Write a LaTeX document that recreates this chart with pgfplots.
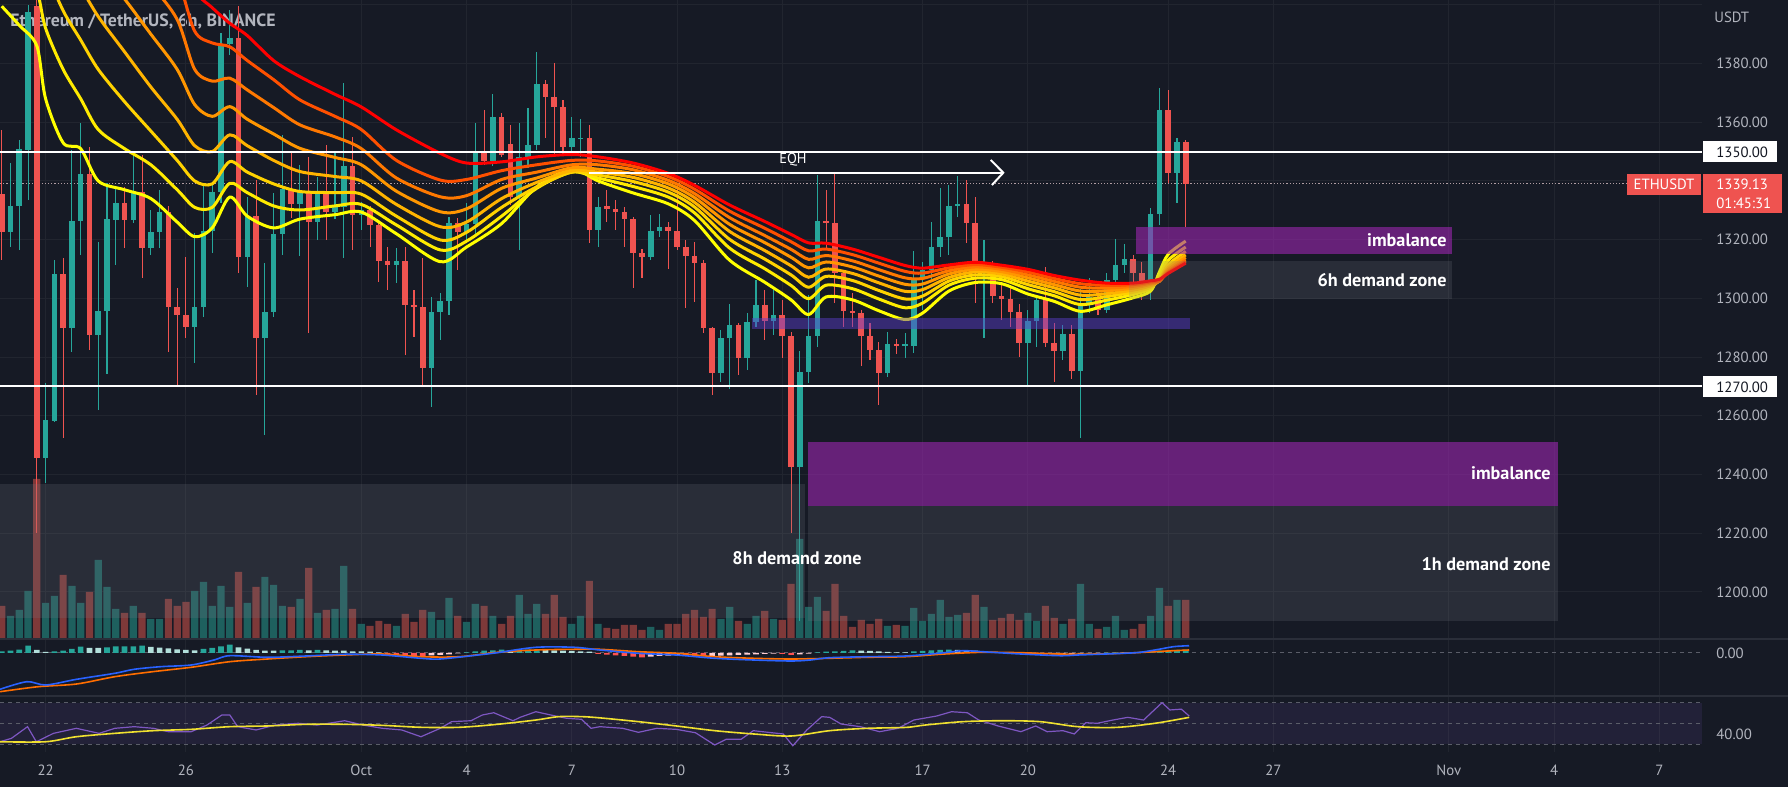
\documentclass[border=0pt]{standalone}
\usepackage{pgfplots}
\pgfplotsset{compat=1.18}
\usepackage{pgfplotstable}
\usepackage{fontspec}
\setmainfont{PT Sans}
\definecolor{bg}{HTML}{161A25}
\definecolor{gridc}{HTML}{21252F}
\definecolor{sepc}{HTML}{2A2E39}
\definecolor{lbl}{HTML}{B2B5BE}
\definecolor{up}{HTML}{26A69A}
\definecolor{dn}{HTML}{EF5350}
\definecolor{upv}{HTML}{1E605E}
\definecolor{dnv}{HTML}{7E3939}
\definecolor{hupl}{HTML}{B2DFDB}
\definecolor{hdn}{HTML}{FF5252}
\definecolor{hdnl}{HTML}{FFCDD2}
\definecolor{zoneg}{HTML}{787B86}
\definecolor{imb}{HTML}{9C27B0}
\definecolor{thinp}{HTML}{5D3FD3}
\definecolor{macdb}{HTML}{2962FF}
\definecolor{macdo}{HTML}{FF6D00}
\definecolor{rsip}{HTML}{7E57C2}
\definecolor{rsiy}{HTML}{F0E130}
\definecolor{dashc}{HTML}{5A5D68}
\definecolor{dotc}{HTML}{B09CA2}
\definecolor{darkt}{HTML}{131722}
\definecolor{ea}{HTML}{FFFF00}
\definecolor{eb}{HTML}{FFEB00}
\definecolor{ec}{HTML}{FFD200}
\definecolor{ed}{HTML}{FFB400}
\definecolor{ee}{HTML}{FF9600}
\definecolor{ef}{HTML}{FF7800}
\definecolor{eg}{HTML}{FF5000}
\definecolor{eh}{HTML}{FF0000}
\newcommand{\fl}{\fontsize{7.4pt}{8.5pt}\selectfont}
\newcommand{\fz}{\fontsize{9.1pt}{10.5pt}\selectfont\bfseries}

\pgfplotstableread{
j o h l c v
-4 1322.7 1346.0 1317.6 1331.5 23
-3 1331.3 1354.0 1316.5 1350.8 29
-2 1350.5 1400.0 1333.5 1397.7 48
0 1245.5 1271.1 1237.0 1258.6 36
1 1258.4 1313.1 1258.0 1308.3 43
3 1290.0 1350.5 1281.9 1326.5 53
4 1326.5 1359.9 1314.8 1342.4 36
6 1287.5 1319.3 1262.0 1295.7 79
7 1295.7 1339.2 1274.4 1327.0 52
8 1326.7 1338.1 1311.4 1332.4 30
10 1326.7 1349.4 1325.6 1336.4 33
12 1317.1 1330.1 1314.8 1322.7 20
13 1322.7 1336.9 1317.1 1329.3 20
17 1290.4 1322.2 1277.9 1297.2 48
18 1297.2 1338.6 1293.8 1323.1 57
19 1323.1 1338.6 1315.4 1336.4 33
20 1336.4 1390.3 1332.4 1386.6 53
21 1386.5 1398.2 1383.0 1388.6 32
23 1314.0 1334.7 1304.0 1328.1 36
25 1286.4 1311.9 1253.5 1295.5 62
26 1295.5 1335.8 1293.8 1321.8 54
27 1321.8 1355.7 1314.8 1337.1 33
29 1332.2 1345.4 1314.6 1336.4 40
31 1326.1 1341.5 1319.9 1335.4 26
33 1329.6 1349.4 1327.0 1331.0 30
34 1331.0 1373.3 1313.6 1345.1 73
36 1328.4 1333.0 1323.3 1330.0 15
40 1311.4 1317.1 1305.1 1312.9 13
44 1276.2 1300.6 1263.1 1295.5 27
45 1295.5 1301.7 1285.8 1299.1 19
46 1299.1 1327.8 1294.3 1325.8 41
48 1322.7 1332.4 1319.3 1325.3 17
49 1325.3 1359.6 1321.6 1350.0 35
51 1346.8 1369.6 1345.0 1361.7 23
54 1334.7 1359.9 1316.5 1348.3 44
55 1348.3 1364.8 1344.3 1352.3 25
56 1352.3 1384.0 1350.5 1373.0 35
60 1351.7 1361.9 1348.8 1354.5 15
61 1354.5 1361.0 1348.0 1354.7 23
63 1323.3 1334.7 1317.6 1331.3 15
69 1314.2 1328.4 1313.0 1323.0 12
70 1323.0 1328.8 1321.0 1324.2 9
77 1274.7 1289.2 1271.6 1286.6 20
78 1286.6 1298.1 1269.0 1291.0 32
80 1279.8 1294.9 1275.6 1292.1 15
81 1292.1 1306.3 1290.4 1297.7 23
83 1292.2 1303.0 1287.5 1294.4 20
86 1242.6 1282.1 1190.0 1274.8 100
87 1274.8 1301.1 1271.1 1287.2 32
88 1287.2 1342.0 1283.6 1326.4 42
96 1274.5 1288.7 1273.3 1284.4 13
98 1283.7 1288.1 1279.6 1284.3 13
99 1283.7 1316.1 1281.3 1306.8 31
100 1306.8 1312.5 1296.0 1309.6 18
101 1309.6 1326.1 1306.5 1317.6 25
102 1317.6 1337.5 1314.2 1321.0 39
103 1321.0 1338.6 1314.8 1331.6 22
104 1331.6 1341.7 1327.8 1332.1 24
107 1308.5 1319.9 1286.4 1309.8 32
112 1284.9 1296.0 1269.9 1292.3 26
113 1292.3 1301.0 1283.6 1299.5 18
116 1282.2 1291.0 1279.0 1287.9 15
118 1275.4 1303.1 1252.3 1298.3 55
119 1298.3 1306.8 1295.0 1300.4 15
121 1296.0 1308.7 1295.0 1306.4 12
122 1306.4 1320.2 1304.0 1311.4 23
123 1311.4 1318.6 1308.5 1313.4 9
126 1304.0 1330.7 1299.5 1328.8 23
127 1328.8 1371.6 1325.0 1364.2 51
129 1342.6 1354.5 1332.4 1353.4 39
}\upT

\pgfplotstableread{
j o h l c v
-5 1335.4 1357.4 1313.1 1322.7 33
-1 1399.6 1405.0 1220.0 1245.5 160
2 1308.3 1313.6 1252.4 1290.0 64
5 1342.4 1351.7 1282.4 1287.5 47
9 1332.4 1338.1 1317.1 1326.7 26
11 1336.4 1348.8 1306.8 1317.1 26
14 1329.3 1331.3 1281.9 1297.2 40
15 1297.2 1303.4 1270.0 1294.3 33
16 1294.3 1314.2 1286.4 1290.4 37
22 1388.6 1399.6 1308.5 1314.0 67
24 1328.1 1340.3 1267.1 1286.4 52
28 1337.1 1350.0 1327.3 1332.2 32
30 1336.4 1348.3 1288.1 1326.1 71
32 1335.4 1352.3 1319.9 1329.6 29
35 1345.1 1355.1 1316.5 1328.4 30
37 1330.0 1331.5 1317.6 1325.0 13
38 1325.0 1326.4 1305.7 1312.9 18
39 1312.9 1317.6 1302.9 1311.4 15
41 1312.9 1317.6 1280.7 1297.7 25
42 1297.7 1302.9 1287.0 1297.2 17
43 1297.2 1313.6 1270.0 1276.2 29
47 1325.8 1327.3 1309.7 1322.7 23
50 1350.0 1364.2 1345.4 1346.8 33
52 1361.7 1363.0 1348.0 1348.8 15
53 1352.6 1359.0 1331.8 1334.7 23
57 1373.0 1374.3 1354.5 1368.5 25
58 1368.5 1380.1 1348.8 1365.1 44
59 1365.1 1367.6 1348.8 1351.7 22
62 1354.7 1359.0 1318.8 1323.3 58
64 1331.3 1336.9 1326.1 1330.3 11
65 1330.3 1333.5 1323.3 1329.5 10
66 1329.5 1331.0 1317.6 1327.0 14
67 1327.0 1327.8 1303.4 1315.3 14
68 1315.3 1317.0 1306.8 1314.2 9
71 1324.2 1326.0 1309.9 1322.8 15
72 1322.8 1338.6 1316.5 1317.6 15
73 1317.6 1319.8 1296.6 1314.4 25
74 1314.4 1319.3 1298.9 1312.2 29
75 1312.2 1313.0 1288.1 1289.8 22
76 1289.8 1290.4 1267.1 1274.7 30
79 1291.0 1291.5 1273.9 1279.8 18
82 1297.7 1302.9 1285.8 1292.2 28
84 1294.4 1299.5 1279.6 1287.2 19
85 1287.2 1288.5 1220.0 1242.6 55
89 1326.4 1336.9 1316.5 1325.6 28
90 1325.6 1343.2 1298.3 1308.5 55
91 1308.5 1309.5 1290.4 1295.8 23
92 1295.8 1301.7 1290.4 1294.9 12
93 1294.9 1296.0 1277.0 1287.2 19
94 1287.2 1291.5 1279.0 1282.4 15
95 1282.4 1285.0 1263.7 1274.5 20
97 1284.4 1286.0 1281.0 1283.7 14
105 1332.1 1340.3 1318.8 1325.6 26
106 1325.6 1334.7 1298.3 1308.5 44
108 1309.8 1312.9 1298.3 1300.7 19
109 1300.7 1305.0 1292.7 1299.8 21
110 1299.8 1304.0 1290.4 1295.5 25
111 1295.5 1298.0 1280.2 1284.9 19
114 1299.5 1310.8 1283.6 1284.7 33
115 1284.7 1291.5 1271.6 1282.2 21
117 1287.9 1291.0 1272.6 1275.4 20
120 1300.4 1303.0 1294.5 1296.0 10
124 1313.4 1314.8 1304.0 1308.5 10
125 1308.5 1312.5 1299.5 1304.0 15
128 1364.2 1371.0 1339.2 1342.6 33
130 1353.4 1353.9 1324.4 1339.1 39
}\dnT

\pgfplotstableread{
j y1 y2 y3 y4 y5 y6 y7 y8
-5 1399.5 1425 1440 1450 1460 1470 1478 1485
-3 1393 1418 1432 1443 1454 1464 1473 1480
-1 1386 1405 1422 1435 1447 1458 1467 1475
0 1368 1392 1412 1428 1441 1453 1462 1470
2 1353 1378 1398 1416 1431 1444 1454 1463
4 1351 1368 1388 1406 1422 1436 1447 1457
6 1340 1357.5 1378 1396 1413 1428 1440 1450
9 1337 1351 1367 1384 1402 1418 1431 1442
12 1334 1345.5 1357 1372 1390 1407 1421 1433
15 1326 1337 1347 1361 1378 1395 1409 1421
17 1321 1331 1340 1352 1366 1378 1391 1405
19 1324 1331 1339 1350 1362 1374 1387 1399
21 1334.5 1339.2 1346.6 1355.7 1365.3 1375.0 1385.7 1393.7
23 1328 1336 1343 1352 1361 1371 1381 1389.5
26 1324 1331.5 1339 1347 1356 1365 1374.5 1381
29 1327 1330.1 1336.4 1343.2 1351.1 1359.1 1367.6 1375.5
33 1328.5 1331.5 1336 1341.5 1348 1355 1362 1369.5
36 1329.4 1332 1335.5 1340 1345.5 1351 1357.5 1365.2
40 1322 1325 1328 1332 1336.5 1341 1347 1357.4
45 1312.5 1316.5 1319.9 1324.4 1329.5 1334.6 1340.3 1349.4
48 1317.5 1319.5 1322.5 1326 1330.5 1335 1340.5 1346.1
52 1325.5 1328 1331 1334 1337.5 1340.5 1343.5 1346.5
56 1338 1337.5 1338 1339.5 1341 1343 1345.5 1348.2
60 1344 1343 1343 1343.5 1344.5 1345.5 1347 1349
63 1340 1341 1342 1343 1344 1345.5 1346.8 1348.2
67 1335.9 1338.1 1339.8 1341.2 1342.5 1343.8 1345.0 1346.1
71 1332.2 1334.5 1336.2 1337.6 1339.0 1340.2 1341.5 1342.6
74 1326.5 1329.1 1331.1 1332.7 1334.3 1335.7 1337.2 1338.5
78 1313 1317.1 1320.1 1322.8 1325.2 1327.5 1329.7 1331.8
82 1305.5 1310.1 1313.4 1316.3 1319.0 1321.4 1323.9 1326.2
85 1299.5 1304.4 1308.0 1311.1 1314.0 1316.7 1319.3 1321.8
87 1294.5 1299.9 1303.8 1307.2 1310.4 1313.3 1316.2 1318.9
89 1300.5 1304.5 1307.5 1310.0 1312.4 1314.6 1316.8 1318.8
92 1299.5 1303.3 1306.1 1308.5 1310.7 1312.8 1314.9 1316.8
95 1295.8 1299.8 1302.7 1305.3 1307.6 1309.8 1312.0 1314.0
98 1292.8 1296.8 1299.8 1302.4 1304.8 1307.0 1309.2 1311.2
100 1295.0 1298.4 1300.8 1303.0 1304.9 1306.8 1308.6 1310.3
103 1302.5 1304.5 1305.9 1307.1 1308.3 1309.4 1310.4 1311.4
106 1305.4 1306.9 1308.0 1309.0 1309.9 1310.7 1311.5 1312.3
109 1305.0 1306.4 1307.4 1308.3 1309.1 1309.9 1310.6 1311.3
112 1301.5 1303.3 1304.7 1305.9 1307.0 1308.0 1309.0 1309.9
115 1299.0 1300.9 1302.3 1303.6 1304.7 1305.8 1306.8 1307.8
118 1295.6 1297.9 1299.6 1301.1 1302.5 1303.8 1305.0 1306.2
121 1297.8 1299.4 1300.6 1301.6 1302.6 1303.5 1304.4 1305.2
124 1300.2 1301.3 1302.1 1302.8 1303.5 1304.1 1304.7 1305.2
126 1302.5 1303.3 1303.8 1304.3 1304.8 1305.2 1305.6 1306.0
127 1309 1307.5 1306.5 1306 1305.8 1305.8 1306 1306.5
128 1315 1313 1311.5 1310.5 1309.8 1309.2 1308.8 1308.5
130 1319.5 1317.5 1316 1314.8 1313.9 1313.1 1312.5 1312.0
}\emaT

\pgfplotsset{tvbase/.style={
  scale only axis, width=851pt, anchor=south west,
  xmin=-5.2, xmax=188.87,
  axis line style={draw=none}, major tick length=0pt, tick style={draw=none},
  xtick={0,16,36,48,60,72,84,100,112,128,140,160,172,184},
  major grid style={draw=gridc, line width=0.5pt},
  yticklabels={},
}}

\begin{document}
\begin{tikzpicture}
\useasboundingbox (0,0) rectangle (894pt,393.5pt);
\fill[bg] (0,0) rectangle (894pt,393.5pt);

% title (under the series)
\begin{scope}[shift={(0pt,393.5pt)}, x=0.5pt, y=-0.5pt]
\node[anchor=base west, inner sep=0, text=lbl, font=\fontsize{8.9pt}{10pt}\selectfont\bfseries] at (10,27) {Ethereum / TetherUS, 6h, BINANCE};
\end{scope}

% grid of the price pane
\begin{axis}[tvbase, at={(0pt,74pt)}, height=319.5pt, ymin=1183.99, ymax=1401.63,
  ytick={1200,1220,...,1400}, xmajorgrids, ymajorgrids, xticklabels={}]
\addplot[draw=none] coordinates {(0,1300)};
\end{axis}

% volume
\begin{axis}[tvbase, at={(0pt,74pt)}, height=319.5pt, ymin=0, ymax=639, xticklabels={}, ytick=\empty]
\addplot[ybar, bar width=3.6pt, bar shift=0pt, fill=upv, draw=none] table[x=j, y=v] {\upT};
\addplot[ybar, bar width=3.6pt, bar shift=0pt, fill=dnv, draw=none] table[x=j, y=v] {\dnT};
\end{axis}

% price pane
\begin{axis}[tvbase, at={(0pt,74pt)}, height=319.5pt, ymin=1183.99, ymax=1401.63, xticklabels={}, ytick=\empty]
\draw[dotc, line width=0.5pt, dash pattern=on 0.6pt off 1pt] (axis cs:-5.2,1339.13) -- (axis cs:188.87,1339.13);
\addplot[draw=none, mark=none, error bars/.cd, y dir=both, y explicit, error mark=none,
  error bar style={draw=up, line width=0.55pt}]
  table[x=j, y expr={(\thisrow{h}+\thisrow{l})/2}, y error expr={(\thisrow{h}-\thisrow{l})/2}] {\upT};
\addplot[draw=none, mark=none, error bars/.cd, y dir=both, y explicit, error mark=none,
  error bar style={draw=up, line width=2.8pt}]
  table[x=j, y expr={(\thisrow{o}+\thisrow{c})/2}, y error expr={max(abs(\thisrow{c}-\thisrow{o})/2,0.18)}] {\upT};
\addplot[draw=none, mark=none, error bars/.cd, y dir=both, y explicit, error mark=none,
  error bar style={draw=dn, line width=0.55pt}]
  table[x=j, y expr={(\thisrow{h}+\thisrow{l})/2}, y error expr={(\thisrow{h}-\thisrow{l})/2}] {\dnT};
\addplot[draw=none, mark=none, error bars/.cd, y dir=both, y explicit, error mark=none,
  error bar style={draw=dn, line width=2.8pt}]
  table[x=j, y expr={(\thisrow{o}+\thisrow{c})/2}, y error expr={max(abs(\thisrow{c}-\thisrow{o})/2,0.18)}] {\dnT};
% EMA ribbon
\addplot[ea, line width=1.5pt, smooth] table[x=j, y=y1] {\emaT};
\addplot[eb, line width=1.5pt, smooth] table[x=j, y=y2] {\emaT};
\addplot[ec, line width=1.5pt, smooth] table[x=j, y=y3] {\emaT};
\addplot[ed, line width=1.5pt, smooth] table[x=j, y=y4] {\emaT};
\addplot[ee, line width=1.5pt, smooth] table[x=j, y=y5] {\emaT};
\addplot[ef, line width=1.5pt, smooth] table[x=j, y=y6] {\emaT};
\addplot[eg, line width=1.5pt, smooth] table[x=j, y=y7] {\emaT};
\addplot[eh, line width=1.5pt, smooth] table[x=j, y=y8] {\emaT};
% zones
\fill[zoneg, fill opacity=0.2] (axis cs:-5.2,1191.2) rectangle (axis cs:86.6,1236.9);
\fill[imb, fill opacity=0.6] (axis cs:86.9,1229.3) rectangle (axis cs:172.5,1251.0);
\fill[zoneg, fill opacity=0.2] (axis cs:86.9,1190.1) rectangle (axis cs:172.5,1229.3);
\fill[imb, fill opacity=0.6] (axis cs:124.3,1315.1) rectangle (axis cs:160.4,1324.3);
\fill[zoneg, fill opacity=0.2] (axis cs:123.5,1299.8) rectangle (axis cs:160.4,1312.7);
\fill[thinp, fill opacity=0.45] (axis cs:80.5,1289.5) rectangle (axis cs:130.5,1293.2);
% levels
\draw[white, line width=1pt] (axis cs:-5.2,1350) -- (axis cs:188.87,1350);
\draw[white, line width=1pt] (axis cs:-5.2,1270) -- (axis cs:188.87,1270);
\draw[white, line width=1pt] (axis cs:62,1342.8) -- (axis cs:109.2,1342.8);
\draw[white, line width=1pt] (axis cs:107.77,1347.14) -- (axis cs:109.2,1342.8) -- (axis cs:107.9,1338.6);
\end{axis}

% MACD pane
\begin{axis}[tvbase, at={(0pt,45.5pt)}, height=28.5pt, ymin=-43, ymax=14, xmajorgrids, xticklabels={}, ytick=\empty]
\draw[dashc, line width=0.5pt, dash pattern=on 2pt off 2pt] (axis cs:-5.2,0) -- (axis cs:188.87,0);
\addplot[ybar, bar width=2.8pt, bar shift=0pt, fill=up, draw=none] coordinates {(-5,1.7) (-4,2.3) (-3,3.3) (-2,7.3) (1,1.7) (2,2.3) (3,4) (4,6.3) (7,5.7) (8,6.7) (9,6.7) (10,6.7) (11,7.3) (18,4) (19,5) (20,6.7) (21,8.3) (27,2.7) (28,2.7) (29,3) (31,3) (48,0.7) (49,1.5) (50,2.3) (51,2.7) (52,3.3) (54,3) (55,3.3) (56,3.7) (88,0.7) (89,1.3) (90,1.7) (91,2) (92,2.7) (99,1.5) (100,2) (101,2.5) (102,3) (103,3.3) (121,0.3) (122,0.7) (126,1) (127,2.3) (128,2.7) (129,3) (130,3.3)};
\addplot[ybar, bar width=2.8pt, bar shift=0pt, fill=hupl, draw=none] coordinates {(-1,3) (0,1) (5,5) (6,5) (12,6) (13,5.3) (14,4.7) (15,3.7) (16,3) (17,2.7) (22,5.7) (23,4.3) (24,3) (25,2.3) (26,2.3) (30,2.7) (32,2.7) (33,2.3) (34,2.3) (35,1.7) (36,1.7) (37,1.3) (38,0.7) (53,2.7) (57,3) (58,2.7) (59,2.3) (60,2) (61,1.7) (62,1.3) (93,2.3) (94,2) (95,1.7) (96,1) (97,0.7) (98,0.7) (104,3) (105,2.7) (106,2.3) (107,1.7) (108,1) (109,0.3) (123,0.7) (124,0.7) (125,0.3)};
\addplot[ybar, bar width=2.8pt, bar shift=0pt, fill=hdn, draw=none] coordinates {(39,-1.5) (40,-2) (41,-2.5) (42,-3) (43,-3) (63,-1) (64,-1.7) (65,-2.3) (66,-3) (67,-3.7) (68,-4.3) (73,-2.5) (74,-3) (75,-3.3) (84,-1) (85,-2) (110,-0.5) (111,-1) (112,-1.3) (113,-1.5) (114,-1.7)};
\addplot[ybar, bar width=2.8pt, bar shift=0pt, fill=hdnl, draw=none] coordinates {(44,-2.5) (45,-2) (46,-1.5) (47,-0.5) (69,-3.7) (70,-3) (71,-2.7) (72,-2.3) (76,-3) (77,-2.7) (78,-2.3) (79,-2) (80,-1.7) (81,-1.3) (82,-1) (83,-0.7) (86,-1.5) (87,-0.7) (115,-1.3) (116,-1) (117,-1) (118,-0.7) (119,-0.5) (120,-0.3)};
\addplot[macdo, line width=0.8pt, smooth] coordinates {(-5.2,-38.7) (-0.84,-33.7) (3.53,-31) (7.89,-23.7) (12.2,-18.7) (16.6,-14.3) (21.0,-8.7) (25.3,-6) (29.7,-3.7) (34.1,-2) (38.4,-1) (42.8,-3.7) (47.2,-3.7) (51.5,0.7) (55.9,3) (60.3,3.7) (63.2,3.7) (67.6,1.3) (71.9,-0.3) (76.3,-3.7) (80.7,-5.3) (85.0,-6) (89.4,-5.3) (93.7,-4.3) (98.1,-3.7) (102.5,-1) (106.8,0.7) (111.2,0.3) (115.6,-1) (119.9,-1) (124.3,0.3) (128.6,2.3) (130.4,3)};
\addplot[macdb, line width=0.8pt, smooth] coordinates {(-5.2,-36.3) (-2.15,-28.7) (0.03,-32) (3.53,-26.3) (7.89,-20.3) (10.1,-16.3) (13.1,-13.7) (16.6,-12) (19.2,-7) (21.0,-2.7) (25.3,-4.3) (29.7,-3) (34.1,-1.3) (38.4,-2) (42.8,-5.3) (45.0,-6) (49.3,-2) (51.5,0.3) (55.9,5.7) (60.3,5.7) (63.2,3) (67.6,-0.3) (71.9,-2) (76.3,-5.3) (80.7,-7) (85.0,-8) (87.2,-7) (89.4,-4.7) (93.7,-3.7) (98.1,-3) (102.5,0.3) (104.6,2.3) (106.8,1.3) (111.2,-1) (115.6,-2.7) (117.7,-2) (119.9,-1.3) (124.3,0.3) (126.5,3) (128.6,6.3) (130.4,7.3)};
\end{axis}

% RSI pane with the time scale
\begin{axis}[tvbase, at={(0pt,17.5pt)}, height=28pt, ymin=22.2, ymax=76.83, xmajorgrids, ytick=\empty,
  xticklabels={22,26,Oct,4,7,10,13,17,20,24,27,Nov,4,7},
  xticklabel style={anchor=center, yshift=-9pt, text=lbl, font=\fl}]
\fill[rsip, fill opacity=0.12] (axis cs:-5.2,30) rectangle (axis cs:188.87,70);
\draw[dashc, line width=0.5pt, dash pattern=on 2pt off 2pt] (axis cs:-5.2,70) -- (axis cs:188.87,70);
\draw[dashc, line width=0.5pt, dash pattern=on 2pt off 2pt] (axis cs:-5.2,50) -- (axis cs:188.87,50);
\draw[dashc, line width=0.5pt, dash pattern=on 2pt off 2pt] (axis cs:-5.2,30) -- (axis cs:188.87,30);
\addplot[rsip, line width=0.6pt] coordinates {(-5.2,32.2) (-3.9,35.5) (-2.06,46.9) (-1.06,32.2) (0.9,40.4) (3.5,45.3) (6.1,40.4) (7.9,45.3) (10.1,46.9) (12.3,45.3) (14.0,42.0) (16.6,42.0) (18.4,48.5) (20.1,58.3) (21.0,58.3) (21.9,46.9) (24.0,43.7) (26.2,48.5) (28.8,50.2) (31.0,48.5) (34.1,52.7) (36.2,48.5) (38.4,45.3) (40.6,43.7) (42.8,37.1) (45.0,45.3) (46.3,51.8) (48.5,52.7) (49.8,58.3) (51.1,60.5) (53.3,52.7) (54.1,56.0) (55.9,61.5) (57.6,58.3) (59.4,55.1) (61.1,54.1) (62.2,45.3) (63.2,46.9) (65.8,45.3) (67.6,41.4) (69.7,45.3) (71.9,44.3) (74.1,41.0) (76.3,29.0) (77.6,34.6) (79.3,34.6) (80.7,43.0) (82.8,41.0) (84.1,39.8) (85.2,28.3) (86.8,43.7) (88.5,56.7) (89.4,56.0) (90.7,49.5) (92.9,46.9) (95.1,42.0) (97.2,45.3) (99.0,53.4) (101.6,57.3) (103.3,61.5) (105.1,60.5) (106.4,53.4) (108.6,47.6) (111.2,42.0) (112.9,47.6) (114.2,42.0) (116.0,43.0) (117.3,39.8) (118.6,50.8) (119.9,50.2) (121.7,53.4) (123.4,56.0) (125.2,53.4) (126.0,59.9) (127.3,70.3) (128.2,63.2) (129.5,64.0) (130.4,57.3)};
\addplot[rsiy, line width=0.8pt, smooth] coordinates {(-5.2,32.2) (0.0,32.2) (3.5,37.1) (7.9,40.4) (12.3,43.0) (16.6,44.3) (21.0,46.9) (25.3,47.6) (29.7,49.2) (34.1,49.2) (38.4,48.2) (42.8,46.3) (47.2,46.3) (51.5,49.2) (55.9,53.4) (58.5,56.7) (61.1,56.7) (63.2,55.5) (67.6,51.8) (71.9,47.6) (76.3,43.0) (80.7,39.8) (85.0,37.8) (89.4,43.0) (93.7,45.3) (98.1,46.2) (100.3,48.5) (104.6,51.8) (109.0,52.7) (113.4,51.8) (117.7,46.9) (122.1,46.2) (126.5,50.2) (130.4,56.0)};
\end{axis}

% overlay in pixel coordinates (y downwards)
\begin{scope}[shift={(0pt,393.5pt)}, x=0.5pt, y=-0.5pt]
\draw[sepc, line width=0.6pt] (0,639) -- (1788,639);
\draw[sepc, line width=0.6pt] (0,696) -- (1788,696);
% zone labels
\node[anchor=center, inner sep=0, text=white, font=\fontsize{7.2pt}{8pt}\selectfont] at (793,160) {EQH};
\node[anchor=east, inner sep=0, text=white, font=\fz] at (1447,240) {imbalance};
\node[anchor=east, inner sep=0, text=white, font=\fz] at (1447,280) {6h demand zone};
\node[anchor=east, inner sep=0, text=white, font=\fz] at (1551,473) {imbalance};
\node[anchor=east, inner sep=0, text=white, font=\fz] at (1551,564) {1h demand zone};
\node[anchor=center, inner sep=0, text=white, font=\fz] at (797,558) {8h demand zone};
% price scale
\node[anchor=west, inner sep=0, text=lbl, font=\fl] at (1714,17) {USDT};
\foreach \p/\yy in {1380/63.5, 1360/122.2, 1320/239.7, 1300/298.4, 1280/357.1, 1260/415.8, 1240/474.6, 1220/533.3, 1200/592}
  \node[anchor=west, inner sep=0, text=lbl, font=\fl] at (1716,\yy) {\p.00};
\node[anchor=west, inner sep=0, text=lbl, font=\fl] at (1716,653) {0.00};
\node[anchor=west, inner sep=0, text=lbl, font=\fl] at (1716,734) {40.00};
\fill[white] (1703,141.5) rectangle (1777,162.5);
\node[anchor=west, inner sep=0, text=darkt, font=\fl] at (1716,152) {1350.00};
\fill[white] (1703,376.5) rectangle (1777,397.5);
\node[anchor=west, inner sep=0, text=darkt, font=\fl] at (1716,387) {1270.00};
\fill[dn] (1627,174) rectangle (1701,195);
\node[anchor=center, inner sep=0, text=white, font=\fl] at (1664,184.5) {ETHUSDT};
\fill[dn] (1703,174) rectangle (1782,213);
\node[anchor=west, inner sep=0, text=white, font=\fl] at (1716,184.5) {1339.13};
\node[anchor=west, inner sep=0, text=white, font=\fl] at (1716,203) {01:45:31};
\end{scope}
\end{tikzpicture}
\end{document}
